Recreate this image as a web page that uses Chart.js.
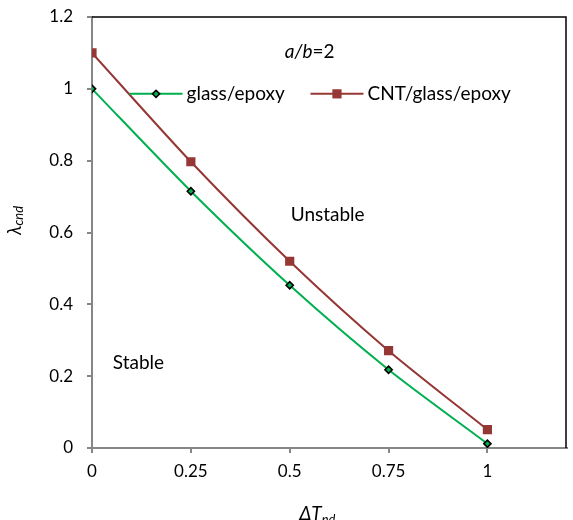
<!DOCTYPE html>
<html>
<head>
<meta charset="utf-8">
<script src="https://cdn.jsdelivr.net/npm/chart.js@4"></script>
<style>
html, body { margin: 0; padding: 0; background: #fff; }
#wrap { width: 573px; height: 520px; position: relative; }
</style>
</head>
<body>
<div id="wrap"><canvas id="chart"></canvas></div>
<script>
const xValues = [0, 0.25, 0.5, 0.75, 1];
const glassEpoxy = [1.0, 0.715, 0.453, 0.218, 0.012];
const cntGlassEpoxy = [1.1, 0.797, 0.52, 0.271, 0.051];
const seriesNames = ['glass/epoxy', 'CNT/glass/epoxy'];
const xTicks = [0, 0.25, 0.5, 0.75, 1];
const yTicks = [0, 0.2, 0.4, 0.6, 0.8, 1, 1.2];

const FONT = 'Lato, "Open Sans", sans-serif';
const AXIS_GREY = '#868686';

const toPoints = (ys) => xValues.map((x, i) => ({ x: x, y: ys[i] }));

// draws a run of text pieces, some italic, some subscript
const drawRich = (ctx, parts, x, y, size) => {
    let cx = x;
    parts.forEach(p => {
        const s = p.sub ? size * 0.68 : size;
        ctx.font = (p.italic ? 'italic ' : '') + s + 'px ' + FONT;
        ctx.fillText(p.text, cx, p.sub ? y + size * 0.22 : y);
        cx += ctx.measureText(p.text).width;
    });
    return cx - x;
};

const richWidth = (ctx, parts, size) => {
    let w = 0;
    parts.forEach(p => {
        const s = p.sub ? size * 0.68 : size;
        ctx.font = (p.italic ? 'italic ' : '') + s + 'px ' + FONT;
        w += ctx.measureText(p.text).width;
    });
    return w;
};

const notes = [
    { x: 0.4875, y: 1.103, parts: [{ text: 'a/b', italic: true }, { text: '=2' }] },
    { x: 0.5025, y: 0.65, parts: [{ text: 'Unstable' }] },
    { x: 0.0525, y: 0.237, parts: [{ text: 'Stable' }] },
];
const legendItems = [{ x: 0.095 }, { x: 0.5525 }];
const legendY = 0.986;

const extrasPlugin = {
    id: 'extras',
    afterDraw(chart) {
        const ctx = chart.ctx;
        const a = chart.chartArea;
        const xs = chart.scales.x;
        const ys = chart.scales.y;
        ctx.save();

        // top and right frame
        ctx.strokeStyle = '#000';
        ctx.lineWidth = 1.5;
        ctx.beginPath();
        ctx.moveTo(a.left, a.top);
        ctx.lineTo(a.right - 0.5, a.top);
        ctx.lineTo(a.right - 0.5, a.bottom);
        ctx.stroke();

        ctx.fillStyle = '#000';
        ctx.textBaseline = 'middle';
        ctx.textAlign = 'left';

        notes.forEach(n => {
            drawRich(ctx, n.parts, xs.getPixelForValue(n.x), ys.getPixelForValue(n.y), 19);
        });

        // legend inside the plot
        const ly = ys.getPixelForValue(legendY);
        chart.data.datasets.forEach((ds, i) => {
            const lx = xs.getPixelForValue(legendItems[i].x);
            ctx.strokeStyle = ds.borderColor;
            ctx.lineWidth = ds.borderWidth;
            ctx.beginPath();
            ctx.moveTo(lx, ly);
            ctx.lineTo(lx + 53, ly);
            ctx.stroke();
            ctx.fillStyle = ds.pointBackgroundColor;
            ctx.strokeStyle = ds.pointBorderColor;
            ctx.lineWidth = ds.pointBorderWidth;
            Chart.helpers.drawPoint(ctx, {
                pointStyle: ds.pointStyle,
                radius: ds.pointRadius,
                borderWidth: ds.pointBorderWidth,
                rotation: 0
            }, lx + 26.5, ly);
            ctx.fillStyle = '#000';
            ctx.font = '19px ' + FONT;
            ctx.fillText(ds.label, lx + 57, ly);
        });

        // axis titles
        const yParts = [{ text: 'λ', italic: true }, { text: 'cnd', italic: true, sub: true }];
        const yw = richWidth(ctx, yParts, 19);
        ctx.save();
        ctx.translate(15, (a.top + a.bottom) / 2 - 12);
        ctx.rotate(-Math.PI / 2);
        drawRich(ctx, yParts, -yw / 2, 0, 19);
        ctx.restore();

        const xParts = [{ text: 'ΔT', italic: true }, { text: 'nd', italic: true, sub: true }];
        const xw = richWidth(ctx, xParts, 19);
        ctx.textBaseline = 'alphabetic';
        drawRich(ctx, xParts, (a.left + a.right) / 2 - 12 - xw / 2, 520, 19);

        ctx.restore();
    }
};

const data = {
    datasets: [{
        label: seriesNames[0],
        data: toPoints(glassEpoxy),
        borderColor: '#00B050',
        borderWidth: 2,
        pointStyle: 'rectRot',
        pointRadius: 3.6,
        pointBackgroundColor: '#00B050',
        pointBorderColor: '#000',
        pointBorderWidth: 1.6,
        tension: 0.25,
        order: 1
    }, {
        label: seriesNames[1],
        data: toPoints(cntGlassEpoxy),
        borderColor: '#953735',
        borderWidth: 2,
        pointStyle: 'rect',
        pointRadius: 6.5,
        pointBackgroundColor: '#953735',
        pointBorderColor: '#953735',
        pointBorderWidth: 0,
        tension: 0.25,
        order: 2
    }]
};

const tickFont = { family: FONT, size: 17 };

new Chart(document.getElementById('chart'), {
    type: 'line',
    data: data,
    plugins: [extrasPlugin],
    options: {
        responsive: true,
        maintainAspectRatio: false,
        animation: false,
        layout: { padding: { top: 17, right: 2, left: 0, bottom: 0 } },
        plugins: {
            legend: { display: false },
            tooltip: { enabled: false }
        },
        scales: {
            x: {
                type: 'linear',
                min: 0,
                max: 1.2,
                afterBuildTicks: (s) => { s.ticks = xTicks.map(v => ({ value: v })); },
                afterFit: (s) => {
                    s.height = 72;
                    s.paddingLeft = 0;
                    s.paddingRight = 0;
                },
                ticks: {
                    font: tickFont,
                    color: '#000',
                    padding: 8,
                    maxRotation: 0,
                    callback: (v) => String(v)
                },
                grid: {
                    drawOnChartArea: false,
                    drawTicks: true,
                    tickLength: 5,
                    color: AXIS_GREY,
                    lineWidth: 2
                },
                border: { color: AXIS_GREY, width: 2 }
            },
            y: {
                type: 'linear',
                min: 0,
                max: 1.2,
                afterBuildTicks: (s) => { s.ticks = yTicks.map(v => ({ value: v })); },
                afterFit: (s) => {
                    s.width = 92;
                    s.paddingTop = 0;
                    s.paddingBottom = 0;
                },
                ticks: {
                    font: tickFont,
                    color: '#000',
                    padding: 14,
                    callback: (v) => String(v)
                },
                grid: {
                    drawOnChartArea: false,
                    drawTicks: true,
                    tickLength: 5,
                    color: AXIS_GREY,
                    lineWidth: 2
                },
                border: { color: AXIS_GREY, width: 2 }
            }
        }
    }
});
</script>
</body>
</html>
